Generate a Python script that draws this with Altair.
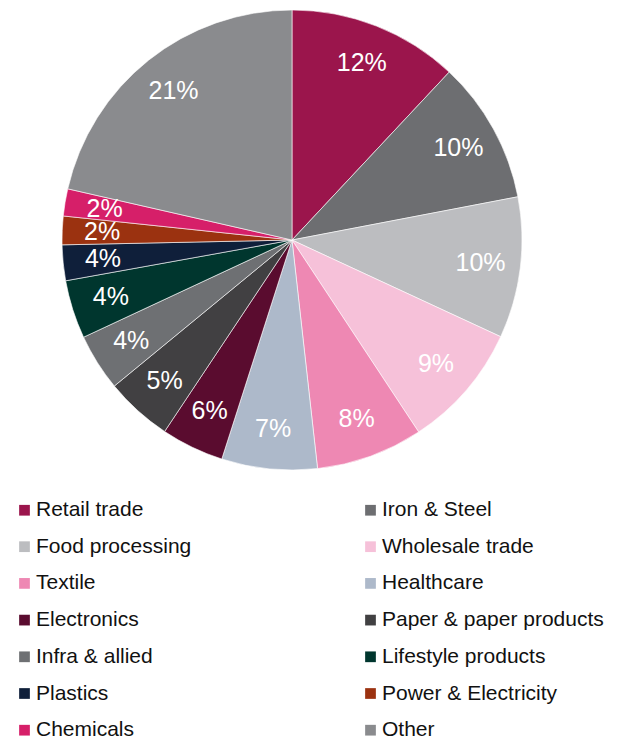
import altair as alt
import pandas as pd

categories = ["Retail trade", "Iron & Steel", "Food processing", "Wholesale trade",
              "Textile", "Healthcare", "Electronics", "Paper & paper products",
              "Infra & allied", "Lifestyle products", "Plastics", "Power & Electricity",
              "Chemicals", "Other"]
shares = [11.96, 10.0, 9.9, 8.8, 7.5, 6.7, 4.4, 4.7, 4.0, 4.1, 2.5, 2.0, 1.9, 21.4]
labels = ["12%", "10%", "10%", "9%", "8%", "7%", "6%", "5%", "4%", "4%", "4%", "2%", "2%", "21%"]
colors = ["#9B154C", "#6D6E71", "#BCBDC0", "#F6C1D9", "#EE88B3", "#ADB9CA",
          "#5A0C2F", "#414042", "#6E7073", "#00362E", "#0F1F3A", "#9B3210",
          "#D61F69", "#8A8B8E"]

df = pd.DataFrame({
    "category": categories,
    "share": shares,
    "label": labels,
    "idx": list(range(len(categories))),
})

# legend is filled column by column: put even entries in the left column,
# odd entries in the right one so it reads row by row like the original
legend_order = categories[0::2] + categories[1::2]
legend_colors = colors[0::2] + colors[1::2]

FONT = "Liberation Sans"

base = alt.Chart(df).encode(
    theta=alt.Theta("share:Q", stack=True),
    order=alt.Order("idx:Q", sort="ascending"),
)

pie = base.mark_arc(outerRadius=230, stroke="white", strokeWidth=0.6).encode(
    color=alt.Color(
        "category:N",
        scale=alt.Scale(domain=legend_order, range=legend_colors),
        legend=alt.Legend(
            title=None,
            orient="none",
            legendX=6,
            legendY=488.5,
            columns=2,
            columnPadding=168,
            rowPadding=14.7,
            symbolType="square",
            symbolSize=115,
            symbolStrokeWidth=0,
            labelFontSize=21,
            labelFont=FONT,
            labelColor="#111111",
            labelOffset=1,
            padding=0,
            labelLimit=400,
        ),
    )
)

text = base.mark_text(radius=190, fontSize=25, font=FONT, color="white").encode(
    text="label:N"
)

chart = (pie + text).properties(
    width=568, height=458, padding=0
).configure_view(stroke=None)

chart.save("out.html", embed_options={"renderer": "svg", "actions": False})
